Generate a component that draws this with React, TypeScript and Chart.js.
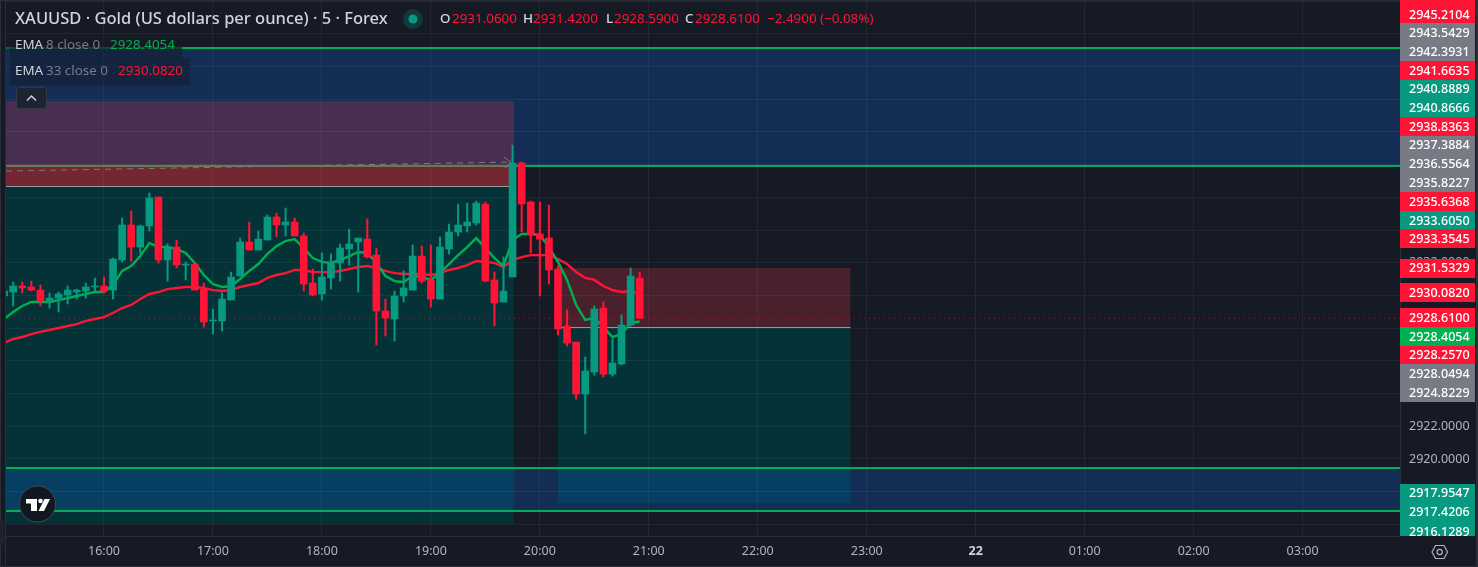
import React, { useEffect, useRef } from "react";
import { Chart, registerables } from "chart.js";

Chart.register(...registerables);

const firstBar = -11;
const opens = [2929.97,2930.21,2930.58,2930.52,2930.33,2929.60,2929.84,2930.03,2930.21,2930.27,2930.52,2930.58,2930.33,2932.17,2934.31,2932.96,2934.25,2936.02,2932.17,2932.96,2931.86,2931.92,2930.39,2928.44,2928.44,2929.72,2931.19,2933.27,2932.78,2933.39,2934.80,2934.31,2934.49,2933.64,2930.76,2930.09,2931.07,2931.99,2932.84,2933.27,2933.45,2932.47,2929.05,2928.56,2929.97,2930.33,2932.41,2930.95,2929.78,2932.84,2933.88,2934.25,2934.43,2935.59,2930.95,2929.60,2931.13,2938.10,2935.72,2933.76,2933.51,2931.62,2928.13,2927.15,2923.97,2925.32,2929.23,2925.19,2925.81,2928.19,2931.06];
const highs = [2930.39,2930.82,2930.82,2930.88,2930.64,2930.15,2930.21,2930.58,2930.39,2930.76,2931.07,2931.13,2932.29,2934.74,2935.17,2934.31,2936.27,2936.02,2933.15,2933.39,2932.05,2931.92,2930.76,2929.17,2930.15,2931.43,2933.51,2934.49,2933.94,2934.92,2935.04,2935.35,2934.74,2933.82,2931.62,2932.60,2932.54,2933.15,2934.06,2933.51,2934.68,2932.90,2929.78,2930.27,2931.50,2933.09,2933.02,2933.09,2933.58,2934.37,2935.59,2935.65,2935.78,2935.72,2931.43,2932.35,2939.20,2938.16,2935.78,2935.72,2935.53,2931.80,2929.11,2927.15,2926.24,2929.36,2929.60,2927.34,2928.80,2931.68,2931.42];
const lows = [2929.84,2929.36,2930.15,2930.27,2929.36,2929.23,2928.99,2929.48,2929.78,2929.84,2930.27,2930.15,2929.78,2932.05,2932.11,2932.54,2933.94,2931.99,2930.88,2931.68,2930.95,2930.33,2928.07,2927.64,2927.83,2929.72,2931.19,2932.78,2932.78,2933.39,2933.58,2933.64,2933.64,2930.27,2929.97,2929.72,2930.39,2930.88,2931.86,2930.21,2932.29,2926.97,2927.52,2927.21,2929.60,2930.33,2930.76,2929.29,2929.78,2932.54,2933.64,2933.88,2934.31,2930.82,2928.13,2929.60,2931.13,2933.88,2932.60,2929.97,2930.70,2927.58,2926.91,2923.67,2921.53,2925.13,2925.01,2925.07,2925.75,2928.13,2928.59];
const closes = [2930.27,2930.58,2930.46,2930.33,2929.66,2929.84,2930.09,2930.33,2930.33,2930.52,2930.58,2930.27,2932.23,2934.31,2932.96,2934.25,2935.96,2932.17,2932.96,2931.86,2931.92,2930.33,2928.38,2928.50,2929.78,2931.13,2933.27,2932.78,2933.45,2934.80,2934.31,2934.49,2933.64,2930.70,2930.03,2931.13,2932.05,2932.90,2933.15,2933.51,2932.35,2929.05,2928.62,2929.97,2930.46,2932.41,2930.88,2929.78,2932.96,2933.88,2934.31,2934.49,2935.65,2930.88,2929.54,2930.27,2938.10,2935.59,2933.70,2933.45,2931.56,2927.95,2927.09,2923.97,2925.38,2929.17,2925.19,2925.87,2928.19,2931.19,2928.61];
const ema8 = [2928.56,2928.99,2929.36,2929.60,2929.60,2929.60,2929.72,2929.84,2929.97,2930.09,2930.21,2930.21,2930.64,2931.50,2931.80,2932.41,2933.21,2932.96,2932.96,2932.84,2932.60,2931.99,2931.25,2930.70,2930.52,2930.58,2931.01,2931.50,2931.92,2932.54,2933.02,2933.33,2933.45,2932.90,2932.29,2932.05,2931.99,2932.17,2932.41,2932.66,2932.60,2931.99,2931.19,2930.88,2930.82,2931.19,2931.13,2930.95,2931.37,2931.92,2932.47,2932.96,2933.51,2932.90,2932.29,2931.80,2933.39,2933.76,2933.76,2933.70,2932.96,2932.05,2930.95,2929.42,2928.50,2928.62,2928.07,2927.46,2927.64,2928.32,2928.41];
const ema33 = [2927.09,2927.34,2927.46,2927.64,2927.77,2927.89,2928.01,2928.13,2928.25,2928.44,2928.56,2928.68,2928.93,2929.23,2929.42,2929.78,2930.09,2930.21,2930.39,2930.46,2930.52,2930.52,2930.46,2930.33,2930.27,2930.33,2930.52,2930.64,2930.76,2931.07,2931.25,2931.37,2931.56,2931.56,2931.43,2931.43,2931.43,2931.50,2931.62,2931.74,2931.80,2931.68,2931.50,2931.37,2931.31,2931.31,2931.31,2931.25,2931.37,2931.56,2931.68,2931.86,2932.11,2932.05,2931.99,2931.74,2932.17,2932.35,2932.47,2932.47,2932.47,2932.23,2931.92,2931.43,2931.07,2930.95,2930.58,2930.33,2930.21,2930.27,2930.08];

const lastPrice = 2928.61;
const levelPrices = [2945.13, 2937.92, 2919.45, 2916.82];
const bandsY = [[2945.13, 2937.92], [2919.45, 2916.82]];
const boxLeft = { from: -13, to: 45.15, stop: 2941.89, inner: 2937.92, entry: 2936.69, target: 2916.02 };
const boxRight = { from: 50, to: 82.2, stop: 2931.68, entry: 2928.07, target: 2917.31 };
const arrowFrom = { x: -10.8, y: 2937.61 };
const arrowTo = { x: 44.8, y: 2938.16 };

const yMin = 2915.29;
const yMax = 2948.07;
const priceTicks = [2916,2918,2920,2922,2924,2926,2928,2930,2932,2934,2936,2938,2940,2942,2944,2946,2948];
const timeTicks = [0, 12, 24, 36, 48, 60, 72, 84, 96, 108, 120, 132];
const timeLabels = ["16:00", "17:00", "18:00", "19:00", "20:00", "21:00", "22:00", "23:00", "22", "01:00", "02:00", "03:00"];

const axisTexts = ["2945.2104","2943.5429","2942.3931","2941.6635","2940.8889","2940.8666","2938.8363","2937.3884","2936.5564","2935.8227","2935.6368","2933.6050","2933.3545","2931.5329","2930.0820","2928.6100","2928.4054","2928.2570","2928.0494","2924.8229","2917.9547","2917.4206","2916.1289"];
const axisKinds = ["r","g","g","r","t","t","r","g","g","g","r","t","r","r","r","r","e","r","g","g","t","t","t"];
const axisTops = [0,23,42,61,80,98,117,136,155,173,192,211,229,259,283,308,327,346,364,383,484,503,522];
const axisBottoms = [23,42,61,80,98,117,136,155,173,192,211,229,248,278,302,327,346,364,383,402,503,522,536];
const axisCentres = [15,33,52,71,89,108,127,145,164,183,202,221,239,268,293,318,337,355,374,393,493,512,532];

const BG = "#161a25";
const UP = "#089981";
const DOWN = "#ff1436";
const LINE_G = "#00b050";
const FONT = '"Noto Sans", sans-serif';

const bars = opens.map((_, i) => firstBar + i);
const candleColours = opens.map((o, i) => (closes[i] >= o ? UP : DOWN));

const drawZones = {
  id: "zones",
  beforeDraw(chart: any) {
    const { ctx, chartArea: a, scales } = chart;
    const X = (v: number) => scales.x.getPixelForValue(v);
    const Y = (v: number) => scales.y.getPixelForValue(v);
    ctx.save();
    ctx.fillStyle = BG;
    ctx.fillRect(0, 0, chart.width, chart.height);
    ctx.beginPath();
    ctx.rect(a.left, a.top, a.width, a.height);
    ctx.clip();
    const rect = (c: string, x1: number, x2: number, y1: number, y2: number) => {
      ctx.fillStyle = c;
      ctx.fillRect(X(x1), Y(y1), X(x2) - X(x1), Y(y2) - Y(y1));
    };
    const teal = "rgba(0,56,60,0.8)";
    rect(teal, boxLeft.from, boxLeft.to, boxLeft.entry, boxLeft.target);
    rect(teal, boxRight.from, boxRight.to, boxRight.entry, boxRight.target);
    for (const [t, b] of bandsY) {
      ctx.fillStyle = "rgba(10,102,228,0.25)";
      ctx.fillRect(a.left, Y(t), a.width, Y(b) - Y(t));
    }
    ctx.fillStyle = LINE_G;
    for (const p of levelPrices) ctx.fillRect(a.left, Math.round(Y(p)) - 1, a.width, 2);
    rect("rgba(242,54,69,0.24)", boxLeft.from, boxLeft.to, boxLeft.stop, boxLeft.entry);
    rect("rgba(242,54,69,0.25)", boxLeft.from, boxLeft.to, boxLeft.inner, boxLeft.entry);
    rect("rgba(242,54,69,0.24)", boxRight.from, boxRight.to, boxRight.stop, boxRight.entry);
    ctx.fillStyle = "#9598a1";
    ctx.fillRect(X(boxLeft.from), Math.round(Y(boxLeft.entry)), X(boxLeft.to) - X(boxLeft.from), 1);
    ctx.fillRect(X(boxRight.from), Math.round(Y(boxRight.entry)), X(boxRight.to) - X(boxRight.from), 1);
    ctx.strokeStyle = "#787b86";
    ctx.lineWidth = 1;
    ctx.setLineDash([6, 5]);
    ctx.beginPath();
    ctx.moveTo(X(arrowFrom.x), Y(arrowFrom.y));
    ctx.lineTo(X(arrowTo.x), Y(arrowTo.y));
    ctx.stroke();
    ctx.setLineDash([]);
    const tx = X(arrowTo.x), ty = Y(arrowTo.y);
    ctx.beginPath();
    ctx.moveTo(tx - 7, ty - 5);
    ctx.lineTo(tx, ty);
    ctx.lineTo(tx - 6, ty + 6);
    ctx.stroke();
    ctx.restore();
  },
};

const drawOverlay = {
  id: "overlay",
  afterDraw(chart: any) {
    const { ctx } = chart;
    ctx.save();
    ctx.fillStyle = "#2a2e39";
    ctx.fillRect(0, 0, 6, 567);
    ctx.fillStyle = BG;
    ctx.fillRect(1, 0, 4, 567);
    ctx.fillStyle = "#2a2e39";
    ctx.fillRect(5, 0, 1, 567);
    ctx.fillRect(0, 0, 1478, 1);
    ctx.fillRect(0, 566, 1478, 1);
    ctx.fillRect(1476, 0, 2, 567);
    ctx.fillStyle = "#1e222d";
    ctx.fillRect(0, 520, 4, 25);

    ctx.textBaseline = "middle";
    ctx.textAlign = "left";
    const put = (s: string, x: number, y: number, c: string, f: string) => {
      ctx.fillStyle = c;
      ctx.font = f;
      ctx.fillText(s, x, y);
    };

    ctx.fillStyle = "rgba(22,26,37,0.45)";
    ctx.fillRect(10, 36, 172, 22);
    ctx.fillRect(10, 58, 180, 27);
    ctx.fillStyle = "rgba(22,26,37,0.5)";
    ctx.fillRect(6, 47, 176, 2);

    put("XAUUSD · Gold (US dollars per ounce) · 5 · Forex", 15, 19, "#d1d4dc", `500 16.5px ${FONT}`);
    ctx.fillStyle = "rgba(8,153,129,0.25)";
    ctx.beginPath();
    ctx.arc(413, 19, 10, 0, Math.PI * 2);
    ctx.fill();
    ctx.fillStyle = UP;
    ctx.beginPath();
    ctx.arc(413, 19, 4.5, 0, Math.PI * 2);
    ctx.fill();

    const f13 = `13.4px ${FONT}`;
    const labels: [string, number][] = [["O", 440], ["H", 523], ["L", 606], ["C", 685]];
    const values: [string, number][] = [["2931.0600", 452], ["2931.4200", 533], ["2928.5900", 614], ["2928.6100", 695], ["−2.4900 (−0.08%)", 767]];
    labels.forEach(([s, x]) => put(s, x, 19, "#d1d4dc", `500 13.4px ${FONT}`));
    values.forEach(([s, x]) => put(s, x, 19, DOWN, f13));

    put("EMA", 15, 45, "#d1d4dc", f13);
    put("8 close 0", 46, 45, "#787b86", f13);
    put("2928.4054", 110, 45, LINE_G, f13);
    put("EMA", 15, 71, "#d1d4dc", f13);
    put("33 close 0", 46, 71, "#787b86", f13);
    put("2930.0820", 118, 71, DOWN, f13);

    ctx.fillStyle = "#1e2331";
    ctx.strokeStyle = "#363a45";
    ctx.lineWidth = 1;
    ctx.beginPath();
    ctx.roundRect(16.5, 87.5, 30, 21, 3);
    ctx.fill();
    ctx.stroke();
    ctx.strokeStyle = "#d1d4dc";
    ctx.lineWidth = 1.5;
    ctx.beginPath();
    ctx.moveTo(27, 100.5);
    ctx.lineTo(31.5, 96);
    ctx.lineTo(36, 100.5);
    ctx.stroke();

    axisTexts.forEach((t, i) => {
      const k = axisKinds[i];
      ctx.fillStyle = k === "r" ? DOWN : k === "t" ? UP : k === "e" ? LINE_G : "#787b86";
      ctx.fillRect(1400, axisTops[i], 75, axisBottoms[i] - axisTops[i]);
    });
    axisTexts.forEach((t, i) => {
      ctx.save();
      ctx.beginPath();
      ctx.rect(1400, 0, 75, 536);
      ctx.clip();
      put(t, 1409, axisCentres[i], "#ffffff", `500 12.5px ${FONT}`);
      ctx.restore();
    });

    ctx.strokeStyle = "#b2b5be";
    ctx.lineWidth = 1.2;
    ctx.beginPath();
    ctx.moveTo(1432, 552);
    ctx.lineTo(1435.5, 545.5);
    ctx.lineTo(1444, 545.5);
    ctx.lineTo(1447.5, 552);
    ctx.lineTo(1444, 558.5);
    ctx.lineTo(1435.5, 558.5);
    ctx.closePath();
    ctx.stroke();
    ctx.beginPath();
    ctx.arc(1439.7, 552, 2.6, 0, Math.PI * 2);
    ctx.stroke();

    ctx.fillStyle = "#131722";
    ctx.strokeStyle = "#434651";
    ctx.lineWidth = 1;
    ctx.beginPath();
    ctx.arc(37.5, 504, 18, 0, Math.PI * 2);
    ctx.fill();
    ctx.stroke();
    ctx.fillStyle = "#ffffff";
    ctx.fillRect(26, 499, 11, 4.5);
    ctx.fillRect(31, 499, 6, 12);
    ctx.beginPath();
    ctx.arc(40.5, 501, 2.3, 0, Math.PI * 2);
    ctx.fill();
    ctx.beginPath();
    ctx.moveTo(44.5, 499);
    ctx.lineTo(50, 499);
    ctx.lineTo(44, 511);
    ctx.lineTo(38.5, 511);
    ctx.closePath();
    ctx.fill();
    ctx.restore();
  },
};

export default function App() {
  const ref = useRef<HTMLCanvasElement>(null);
  useEffect(() => {
    const chart = new Chart(ref.current!, {
      type: "bar",
      data: {
        datasets: [
          {
            type: "bar",
            label: "Body",
            data: bars.map((x, i) => ({ x, y: [opens[i], closes[i]] })),
            backgroundColor: candleColours,
            barThickness: 7,
            grouped: false,
            borderWidth: 0,
            order: 0,
          },
          {
            type: "bar",
            label: "Wick",
            data: bars.map((x, i) => ({ x, y: [lows[i], highs[i]] })),
            backgroundColor: candleColours,
            barThickness: 1.4,
            grouped: false,
            borderWidth: 0,
            order: 1,
          },
          {
            type: "line",
            label: "EMA 8",
            data: bars.map((x, i) => ({ x, y: ema8[i] })),
            borderColor: LINE_G,
            borderWidth: 2.4,
            pointRadius: 0,
            tension: 0,
            order: 2,
          },
          {
            type: "line",
            label: "EMA 33",
            data: bars.map((x, i) => ({ x, y: ema33[i] })),
            borderColor: DOWN,
            borderWidth: 2.4,
            pointRadius: 0,
            tension: 0,
            order: 3,
          },
          {
            type: "line",
            label: "Last",
            data: [{ x: -11, y: lastPrice }, { x: 143, y: lastPrice }],
            borderColor: "rgba(255,20,54,0.6)",
            borderWidth: 1,
            borderDash: [1, 4],
            pointRadius: 0,
            order: 4,
          },
        ] as any,
      },
      options: {
        responsive: false,
        animation: false,
        layout: { padding: { left: 6, top: 0, right: 0, bottom: 0 } },
        plugins: { legend: { display: false }, tooltip: { enabled: false } },
        scales: {
          x: {
            type: "linear",
            bounds: "data",
            offset: false,
            min: -10.79,
            max: 142.73,
            afterBuildTicks: (s: any) => {
              s.ticks = timeTicks.map((value) => ({ value }));
            },
            afterFit: (s: any) => {
              s.height = 31;
              s.paddingLeft = 0;
              s.paddingRight = 0;
            },
            grid: { offset: false, color: "rgba(240,243,250,0.06)", drawTicks: false },
            border: { color: "#2a2e39" },
            ticks: {
              color: (c: any) => (c.tick && c.tick.value === 96 ? "#d1d4dc" : "#b2b5be"),
              font: (c: any) => ({ family: "Noto Sans", size: 12.5, weight: c.tick && c.tick.value === 96 ? "bold" : "normal" }),
              padding: 8,
              maxRotation: 0,
              autoSkip: false,
              callback: (v: any) => timeLabels[timeTicks.indexOf(v)] ?? "",
            },
          },
          y: {
            type: "linear",
            position: "right",
            bounds: "data",
            min: yMin,
            max: yMax,
            afterBuildTicks: (s: any) => {
              s.ticks = priceTicks.map((value) => ({ value }));
              s.min = yMin;
              s.max = yMax;
            },
            afterFit: (s: any) => {
              s.width = 78;
              s.paddingTop = 0;
              s.paddingBottom = 0;
            },
            grid: { color: "rgba(240,243,250,0.06)", drawTicks: false },
            border: { color: "#2a2e39" },
            ticks: {
              autoSkip: false,
              color: "#b2b5be",
              font: { family: "Noto Sans", size: 12.5 },
              padding: 9,
              callback: (v: any) => Number(v).toFixed(4),
            },
          },
        },
      },
      plugins: [drawZones, drawOverlay],
    } as any);
    return () => chart.destroy();
  }, []);
  return (
    <div style={{ position: "fixed", left: 0, top: 0 }}>
      <canvas ref={ref} width={1478} height={567} style={{ display: "block" }} />
    </div>
  );
}
